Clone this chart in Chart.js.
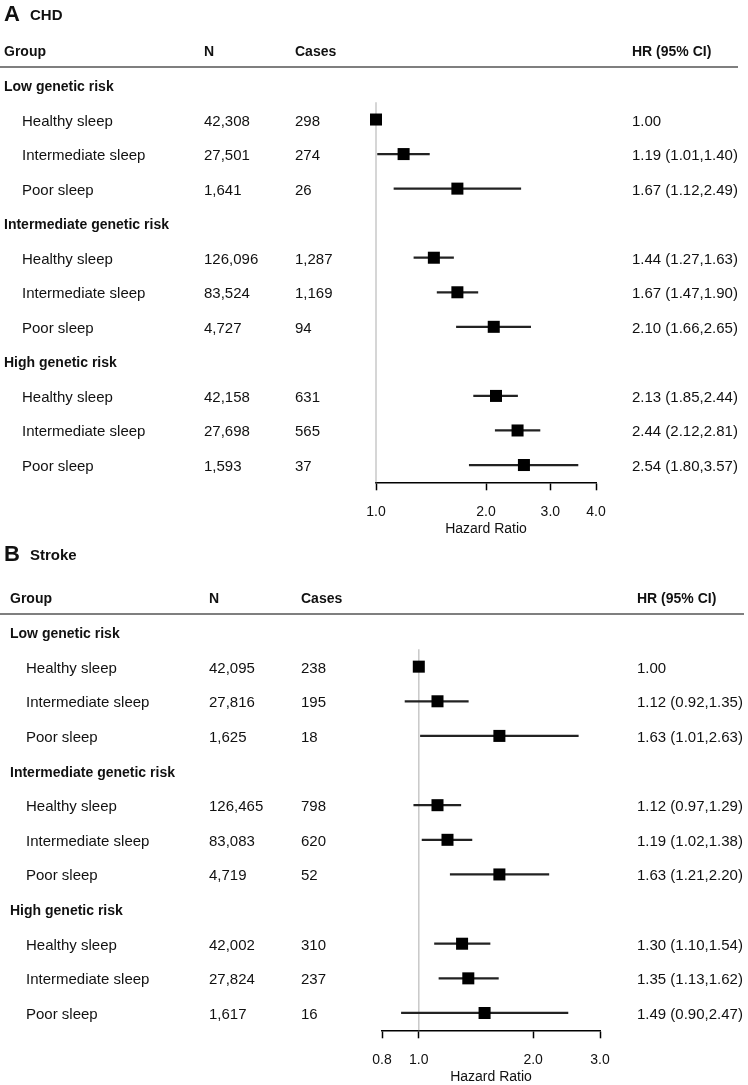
<!DOCTYPE html>
<html lang="en">
<head>
    <meta charset="UTF-8">
    <title>Sleep, genetic risk and CVD</title>
    <script src="https://cdn.jsdelivr.net/npm/chart.js"></script>
    <style>
        body { margin: 0; background: #fff; }
        .panel { position: absolute; left: 0; width: 748px; }
        #panelA { top: 0; height: 545px; }
        #panelB { top: 545px; height: 540px; }
    </style>
</head>
<body>
    <div class="panel" id="panelA"><canvas id="chartA"></canvas></div>
    <div class="panel" id="panelB"><canvas id="chartB"></canvas></div>

    <script>
        // row layout: group heading followed by the three sleep categories
        const groups = ['Low genetic risk', 'Intermediate genetic risk', 'High genetic risk'];
        const sleepCats = ['Healthy sleep', 'Intermediate sleep', 'Poor sleep'];

        // A: CHD
        const chdN = [42308, 27501, 1641, 126096, 83524, 4727, 42158, 27698, 1593];
        const chdCases = [298, 274, 26, 1287, 1169, 94, 631, 565, 37];
        const chdHR = [1.00, 1.19, 1.67, 1.44, 1.67, 2.10, 2.13, 2.44, 2.54];
        const chdLow = [null, 1.01, 1.12, 1.27, 1.47, 1.66, 1.85, 2.12, 1.80];
        const chdHigh = [null, 1.40, 2.49, 1.63, 1.90, 2.65, 2.44, 2.81, 3.57];
        const chdTicks = [1, 2, 3, 4];

        // B: Stroke
        const strokeN = [42095, 27816, 1625, 126465, 83083, 4719, 42002, 27824, 1617];
        const strokeCases = [238, 195, 18, 798, 620, 52, 310, 237, 16];
        const strokeHR = [1.00, 1.12, 1.63, 1.12, 1.19, 1.63, 1.30, 1.35, 1.49];
        const strokeLow = [null, 0.92, 1.01, 0.97, 1.02, 1.21, 1.10, 1.13, 0.90];
        const strokeHigh = [null, 1.35, 2.63, 1.29, 1.38, 2.20, 1.54, 1.62, 2.47];
        const strokeTicks = [0.8, 1, 2, 3];

        const FONT = '"Liberation Sans", Arial, sans-serif';

        // expand 9 values into 12 rows (nulls on the heading rows)
        function toRows(vals) {
            const out = [];
            vals.forEach((v, i) => {
                if (i % 3 === 0) out.push(null);
                out.push(v);
            });
            return out;
        }

        function rowLabels() {
            const out = [];
            groups.forEach(g => {
                out.push(g);
                sleepCats.forEach(s => out.push(s));
            });
            return out;
        }

        function hrText(hr, lo, hi) {
            if (lo === null) return hr.toFixed(2);
            return hr.toFixed(2) + ' (' + lo.toFixed(2) + ',' + hi.toFixed(2) + ')';
        }

        function makeForest(canvasId, p) {
            const labels = rowLabels();
            const hrRows = toRows(p.hr);
            const ciRows = toRows(p.hr.map((v, i) => p.low[i] === null ? null : [p.low[i], p.high[i]]));

            // reference line at HR = 1
            const refLine = {
                id: 'refLine',
                beforeDatasetsDraw(chart) {
                    const { ctx, scales: { x, y }, chartArea } = chart;
                    const px = x.getPixelForValue(1);
                    const top = (y.getPixelForValue(0) + y.getPixelForValue(1)) / 2;
                    ctx.save();
                    ctx.strokeStyle = '#c8c8c8';
                    ctx.lineWidth = 1.5;
                    ctx.beginPath();
                    ctx.moveTo(px, top);
                    ctx.lineTo(px, chartArea.bottom);
                    ctx.stroke();
                    ctx.restore();
                }
            };

            // table columns around the plot
            const table = {
                id: 'table',
                afterDraw(chart) {
                    const { ctx, scales: { y } } = chart;
                    const c = p.cols;
                    ctx.save();
                    ctx.fillStyle = '#111';
                    ctx.textBaseline = 'alphabetic';

                    ctx.font = 'bold 22px ' + FONT;
                    ctx.fillText(p.letter, 4, p.titleY);
                    ctx.font = 'bold 15px ' + FONT;
                    ctx.fillText(p.title, 30, p.titleY - 1);

                    ctx.font = 'bold 14px ' + FONT;
                    ctx.fillText('Group', c.group, p.headY);
                    ctx.fillText('N', c.n, p.headY);
                    ctx.fillText('Cases', c.cases, p.headY);
                    ctx.fillText('HR (95% CI)', c.hr, p.headY);

                    ctx.strokeStyle = '#555';
                    ctx.lineWidth = 1.5;
                    ctx.beginPath();
                    ctx.moveTo(0, p.lineY);
                    ctx.lineTo(p.lineEnd, p.lineY);
                    ctx.stroke();

                    let k = 0;
                    labels.forEach((lab, i) => {
                        const ry = y.getPixelForValue(i) + 6;
                        if (i % 4 === 0) {
                            ctx.font = 'bold 14px ' + FONT;
                            ctx.fillText(lab, c.group, ry);
                            return;
                        }
                        ctx.font = '15px ' + FONT;
                        ctx.fillText(lab, c.sub, ry);
                        ctx.fillText(p.n[k].toLocaleString('en-US'), c.n, ry);
                        ctx.fillText(p.cases[k].toLocaleString('en-US'), c.cases, ry);
                        ctx.fillText(hrText(p.hr[k], p.low[k], p.high[k]), c.hr, ry);
                        k++;
                    });
                    ctx.restore();
                }
            };

            return new Chart(document.getElementById(canvasId), {
                type: 'bar',
                data: {
                    labels: labels,
                    datasets: [{
                        type: 'line',
                        data: hrRows,
                        showLine: false,
                        clip: false,
                        pointStyle: 'rect',
                        pointRadius: 8.5,
                        pointBorderWidth: 0,
                        pointBackgroundColor: '#000',
                        order: 0
                    }, {
                        type: 'bar',
                        data: ciRows,
                        barThickness: 1.6,
                        backgroundColor: '#222',
                        order: 1
                    }]
                },
                options: {
                    indexAxis: 'y',
                    responsive: true,
                    maintainAspectRatio: false,
                    animation: false,
                    events: [],
                    layout: { padding: p.padding },
                    plugins: { legend: { display: false }, tooltip: { enabled: false } },
                    scales: {
                        y: { type: 'category', display: false, offset: true },
                        x: {
                            type: 'logarithmic',
                            min: p.ticks[0],
                            max: p.ticks[p.ticks.length - 1],
                            afterBuildTicks: scale => {
                                scale.ticks = p.ticks.map(v => ({ value: v }));
                            },
                            afterFit: scale => { scale.height = 54; },
                            ticks: {
                                callback: v => Number(v).toFixed(1),
                                font: { family: FONT, size: 14 },
                                color: '#111',
                                padding: 13,
                                maxRotation: 0,
                                autoSkip: false
                            },
                            grid: {
                                drawOnChartArea: false,
                                drawTicks: true,
                                tickLength: 8,
                                tickWidth: 1.5,
                                tickColor: '#000'
                            },
                            border: { display: true, color: '#000', width: 1.5 },
                            title: {
                                display: true,
                                text: 'Hazard Ratio',
                                font: { family: FONT, size: 14, lineHeight: 1 },
                                color: '#111',
                                padding: 0
                            }
                        }
                    }
                },
                plugins: [refLine, table]
            });
        }

        makeForest('chartA', {
            letter: 'A', title: 'CHD', titleY: 21,
            n: chdN, cases: chdCases, hr: chdHR, low: chdLow, high: chdHigh, ticks: chdTicks,
            cols: { group: 4, sub: 22, n: 204, cases: 295, hr: 632 },
            headY: 56, lineY: 67, lineEnd: 738,
            padding: { top: 67.7, bottom: 8.7, left: 376, right: 152 }
        });

        makeForest('chartB', {
            letter: 'B', title: 'Stroke', titleY: 16,
            n: strokeN, cases: strokeCases, hr: strokeHR, low: strokeLow, high: strokeHigh, ticks: strokeTicks,
            cols: { group: 10, sub: 26, n: 209, cases: 301, hr: 637 },
            headY: 58, lineY: 69, lineEnd: 744,
            padding: { top: 69.7, bottom: 0.7, left: 382, right: 148 }
        });
    </script>
</body>
</html>
